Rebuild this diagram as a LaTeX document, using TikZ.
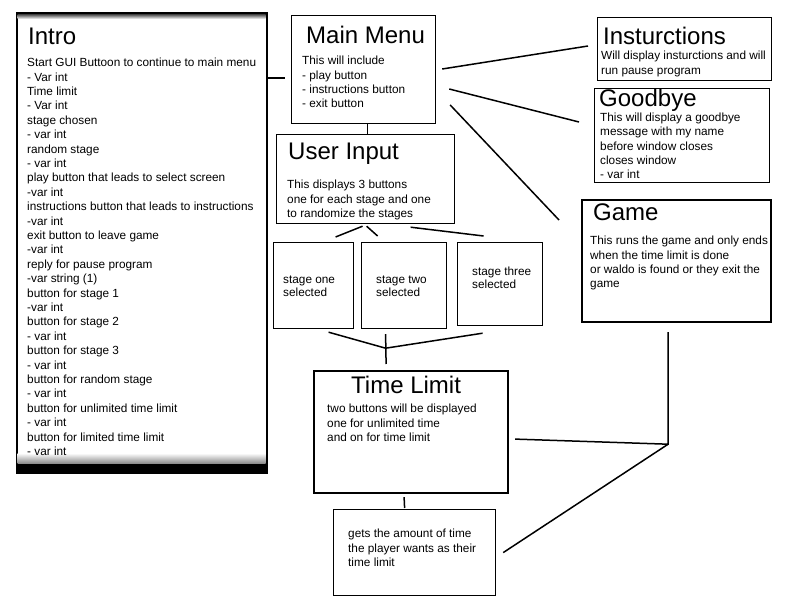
\documentclass[tikz,border=0pt]{standalone}
\usepackage{fontspec}
\setmainfont{Liberation Sans}
\usetikzlibrary{positioning}

\begin{document}
\begin{tikzpicture}[x=1pt, y=-1pt,
	box/.style ={rectangle, draw, line width=1.2pt, inner sep=0pt, anchor=north west},
	heavy/.style ={box, line width=2.2pt},
	heading/.style ={font=\fontsize{24}{28}\selectfont, inner sep=0pt},
	body/.style ={font=\fontsize{11.8}{14.4}\selectfont, align=left, inner sep=0pt},
	tight/.style ={body, font=\fontsize{11.8}{12.4}\selectfont},
	link/.style ={line width=1.5pt}]
	\path[use as bounding box, fill=white] (0,0) rectangle (792,612);

	% boxes
	\node[box, draw=none, fill=black, minimum width=252pt, minimum height=462pt] (intro) at (15,11) {};
	\fill[white] ([shift={(2.5,4)}]intro.north west) rectangle ([shift={(-2.5,-11)}]intro.south east);
	\shade[top color=black!60, bottom color=white] ([shift={(2.5,4)}]intro.north west) rectangle ([shift={(-2.5,8)}]intro.north east);
	\shade[top color=white, bottom color=black!45] ([shift={(2.5,-21)}]intro.south west) rectangle ([shift={(-2.5,-11)}]intro.south east);
	\node[box, minimum width=144pt, minimum height=108pt] (menu) at (291,15) {};
	\node[box, minimum width=178pt, minimum height=89pt] (input) at (276,134) {};
	\node[box, minimum width=174pt, minimum height=63pt] (instr) at (597,17) {};
	\node[box, minimum width=175pt, minimum height=94pt] (bye) at (594,88) {};
	\node[heavy, minimum width=189pt, minimum height=122pt] (game) at (581,199) {};
	\node[box, minimum width=80pt, minimum height=86pt] (one) at (273,242) {};
	\node[box, minimum width=85pt, minimum height=86pt] (two) at (361,242) {};
	\node[box, minimum width=85pt, minimum height=83pt] (three) at (457,242) {};
	\node[heavy, minimum width=194pt, minimum height=122pt] (limit) at (313,370) {};
	\node[box, minimum width=162pt, minimum height=86pt] (amount) at (333,509) {};

	% texts
	\node[heading, below right=17pt and 13pt of intro.north west] (introT) {Intro};
	\node[body, below right=47pt and 12pt of intro.north west] (introTxt) {Start GUI Buttoon to continue to main menu\\- Var int\\Time limit\\- Var int\\stage chosen\\- var int\\random stage\\- var int\\play button that leads to select screen\\-var int\\instructions button that leads to instructions\\-var int\\exit button to leave game\\-var int\\reply for pause program\\-var string (1)\\button for stage 1\\-var int\\button for stage 2\\- var int\\button for stage 3\\- var int\\button for random stage\\- var int\\button for unlimited time limit\\- var int\\button for limited time limit\\- var int};
	\node[heading, below right=11pt and 15pt of menu.north west] (menuT) {Main Menu};
	\node[body, below right=41pt and 11pt of menu.north west] (menuTxt) {This will include\\- play button\\- instructions button\\- exit button};
	\node[heading, below right=9pt and 12pt of input.north west] (inputT) {User Input};
	\node[body, below right=46pt and 11pt of input.north west] (inputTxt) {This displays 3 buttons\\one for each stage and one\\to randomize the stages};
	\node[heading, below right=10pt and 6pt of instr.north west] (instrT) {Insturctions};
	\node[body, below right=34pt and 4pt of instr.north west] (instrTxt) {Will display insturctions and will\\run pause program};
	\node[heading, below right=1pt and 5pt of bye.north west] (byeT) {Goodbye};
	\node[body, below right=24.5pt and 6pt of bye.north west] (byeTxt) {This will display a goodbye\\message with my name\\before window closes\\closes window\\- var int};
	\node[heading, below right=5pt and 12pt of game.north west] (gameT) {Game};
	\node[body, below right=37pt and 9pt of game.north west] (gameTxt) {This runs the game and only ends\\when the time limit is done\\or waldo is found or they exit the\\game};
	\node[tight, below right=34pt and 10pt of one.north west] (oneTxt) {stage one\\selected};
	\node[tight, below right=34pt and 15pt of two.north west] (twoTxt) {stage two\\selected};
	\node[tight, below right=25pt and 15pt of three.north west] (threeTxt) {stage three\\selected};
	\node[heading, below=6pt of limit.north, xshift=-5pt] (limitT) {Time Limit};
	\node[body, below right=34pt and 14pt of limit.north west] (limitTxt) {two buttons will be displayed\\one for unlimited time\\and on for time limit};
	\node[body, below right=20pt and 15pt of amount.north west] (amountTxt) {gets the amount of time\\the player wants as their\\time limit};

	% connectors
	\coordinate (merge) at ([shift={(-18.5,19)}]two.south);
	\coordinate (corner) at ([shift={(-8.5,121)}]game.south);
	\draw[link] ([shift={(0,67)}]intro.north east) -- ([shift={(-6,63)}]menu.north west);
	\draw[link] ([xshift=4pt]menu.south) -- ([xshift=2pt]input.north);
	\draw[link] ([shift={(6,54)}]menu.north east) -- ([shift={(-9,29)}]instr.north west);
	\draw[link] ([shift={(13,74)}]menu.north east) -- ([shift={(-15,34)}]bye.north west);
	\draw[link] ([shift={(14,90)}]menu.north east) -- ([shift={(-22,21)}]game.north west);
	\draw[link] ([shift={(-3,2)}]input.south) -- ([shift={(22,-5)}]one.north);
	\draw[link] ([shift={(1,2)}]input.south) -- ([shift={(-26.5,-6)}]two.north);
	\draw[link] ([shift={(45,3)}]input.south) -- ([shift={(-16.5,-6)}]three.north);
	\draw[link] ([shift={(15,3)}]one.south) -- (merge) -- ([shift={(-17.5,7)}]three.south);
	\draw[link] ([shift={(-18.5,5)}]two.south) -- ([shift={(-25,-6)}]limit.north);
	\draw[link] ([shift={(-8.5,9)}]game.south) -- (corner) -- ([shift={(6,7)}]limit.east);
	\draw[link] (corner) -- ([xshift=7pt]amount.east);
	\draw[link] ([shift={(-7,3)}]limit.south) -- ([shift={(-10,-1)}]amount.north);
\end{tikzpicture}
\end{document}
